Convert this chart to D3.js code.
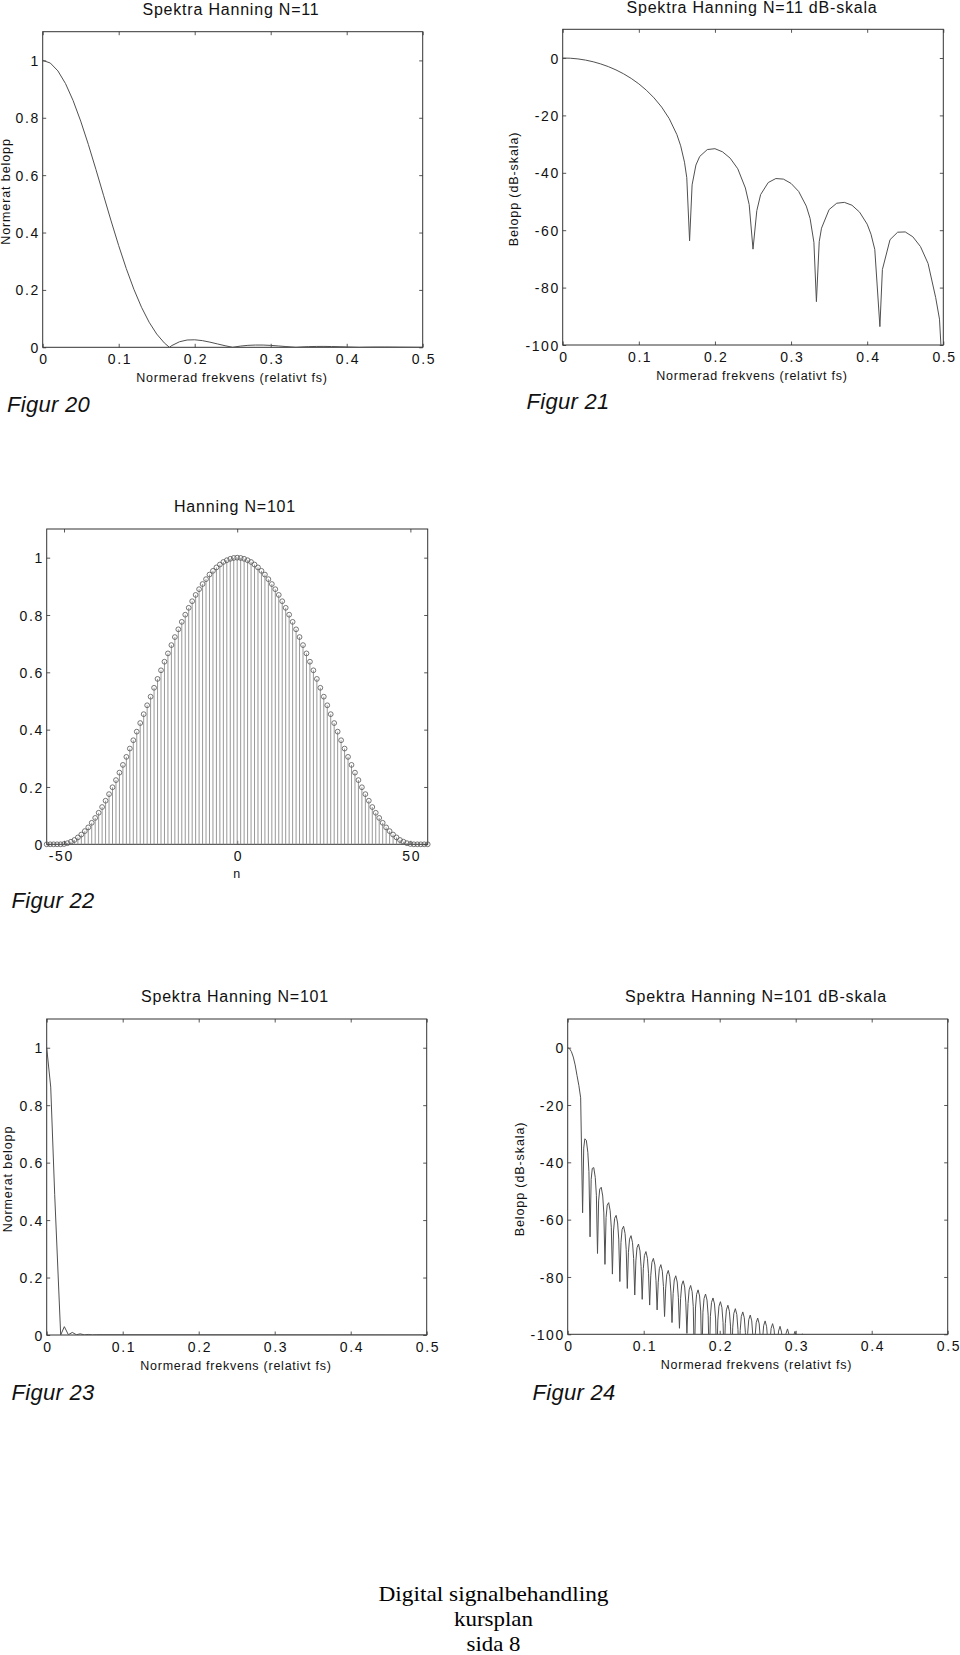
<!DOCTYPE html>
<html><head><meta charset="utf-8">
<script src="https://cdn.jsdelivr.net/npm/d3@7"></script>
<style>html,body{margin:0;padding:0;background:#fff;} svg{display:block;}</style>
</head><body>
<script>
// ---------------- DATA ----------------
// Figur 20: Spektra Hanning N=11 (linear)
const fig20Freq = [0,0.01,0.02,0.03,0.04,0.05,0.06,0.07,0.08,0.09,0.10,0.11,0.12,0.13,0.14,0.15,0.16,0.1667,0.17,0.18,0.19,0.20,0.21,0.22,0.23,0.24,0.25,0.26,0.27,0.28,0.29,0.30,0.31,0.32,0.3333,0.34,0.35,0.36,0.37,0.38,0.39,0.40,0.4167,0.42,0.43,0.44,0.45,0.46,0.47,0.48,0.49,0.50];
const fig20Mag = [1,0.9908,0.9634,0.9192,0.8600,0.7884,0.7074,0.6201,0.5301,0.4405,0.3543,0.2741,0.2021,0.1396,0.0876,0.0463,0.0153,0,0.0062,0.0193,0.0254,0.0262,0.0233,0.0180,0.0117,0.0055,0,0.0042,0.0068,0.0079,0.0078,0.0066,0.0047,0.0026,0,0.0011,0.0023,0.0030,0.0031,0.0027,0.0021,0.0013,0,0.0002,0.0007,0.0009,0.0009,0.0008,0.0005,0.0003,0.0001,0];

// Figur 21: Spektra Hanning N=11 dB-skala
const fig21Freq = [0,0.01,0.02,0.03,0.04,0.05,0.06,0.07,0.08,0.09,0.10,0.11,0.12,0.13,0.14,0.15,
  0.155,0.16,0.163,0.1667,0.17,0.175,0.18,
  0.19,0.20,0.21,0.22,0.23,0.24,
  0.245,0.25,0.255,
  0.26,0.27,0.28,0.29,0.30,0.31,0.32,
  0.325,0.33,0.3333,0.337,
  0.34,0.35,0.36,0.37,0.38,0.39,0.40,
  0.405,0.41,0.4167,
  0.42,0.43,0.44,0.45,0.46,0.47,0.48,0.49,
  0.495,0.50];
const fig21Db = [0,-0.08,-0.32,-0.73,-1.31,-2.07,-3.01,-4.15,-5.51,-7.12,-9.01,-11.24,-13.89,-17.10,-21.15,-26.69,
  -30.6,-36.3,-41.7,-63.7,-44.2,-37.3,-34.3,
  -31.9,-31.6,-32.7,-34.9,-38.6,-45.3,
  -51.1,-66.6,-53.2,
  -47.6,-43.4,-42.0,-42.2,-43.7,-46.5,-51.6,
  -55.9,-64.2,-84.9,-64.0,
  -59.3,-52.8,-50.6,-50.3,-51.3,-53.7,-57.9,
  -61.4,-66.7,-93.6,
  -73.7,-63.3,-60.7,-60.6,-62.3,-65.7,-71.6,-83.5,
  -91,-115];

// Figur 22: Hanning N=101 (stem)
const fig22N = [-55,-54,-53,-52,-51,-50,-49,-48,-47,-46,-45,-44,-43,-42,-41,-40,-39,-38,-37,-36,-35,-34,-33,-32,-31,-30,-29,-28,-27,-26,-25,-24,-23,-22,-21,-20,-19,-18,-17,-16,-15,-14,-13,-12,-11,-10,-9,-8,-7,-6,-5,-4,-3,-2,-1,0,1,2,3,4,5,6,7,8,9,10,11,12,13,14,15,16,17,18,19,20,21,22,23,24,25,26,27,28,29,30,31,32,33,34,35,36,37,38,39,40,41,42,43,44,45,46,47,48,49,50,51,52,53,54,55];
const fig22W = [0,0,0,0,0,
  0.001,0.004,0.009,0.015,0.024,0.034,0.046,0.059,0.075,0.092,0.110,0.130,0.152,0.175,0.199,0.224,0.250,0.277,0.305,0.334,0.363,0.393,0.423,0.454,0.485,0.515,0.546,0.577,0.607,0.637,0.666,0.695,0.723,0.750,0.776,0.801,0.825,0.848,0.870,0.890,0.908,0.925,0.941,0.954,0.966,0.976,0.985,0.991,0.996,0.999,
  1.000,
  0.999,0.996,0.991,0.985,0.976,0.966,0.954,0.941,0.925,0.908,0.890,0.870,0.848,0.825,0.801,0.776,0.750,0.723,0.695,0.666,0.637,0.607,0.577,0.546,0.515,0.485,0.454,0.423,0.393,0.363,0.334,0.305,0.277,0.250,0.224,0.199,0.175,0.152,0.130,0.110,0.092,0.075,0.059,0.046,0.034,0.024,0.015,0.009,0.004,0.001,
  0,0,0,0,0];

// Figur 23: Spektra Hanning N=101 (linear)
const fig23Freq = [0,0.0053,0.0105,0.0184,0.0232,0.0285,0.0337,0.0390,0.0442,0.0495,0.0547,0.0600,0.0652,0.5];
const fig23Mag = [1,0.863,0.49,0,0.029,0.001,0.009,0.001,0.004,0.0005,0.002,0.0003,0.001,0];

// Figur 24: Spektra Hanning N=101 dB-skala
const fig24Freq = [0,0.00245,0.0049,0.00735,0.0098,0.01225,0.0147,0.01706,
  0.01961,0.02108,0.02255,0.02451,0.02647,0.02794,
  0.02941,0.03088,0.03235,0.03431,0.03627,0.03774,
  0.03922,0.04069,0.04216,0.04412,0.04608,0.04755,
  0.04902,0.05049,0.05196,0.05392,0.05588,0.05735,
  0.05882,0.06029,0.06176,0.06373,0.06569,0.06716,
  0.06863,0.07010,0.07157,0.07353,0.07549,0.07696,
  0.07843,0.07990,0.08137,0.08333,0.08529,0.08676,
  0.08824,0.08971,0.09118,0.09314,0.09510,0.09657,
  0.09804,0.09951,0.10098,0.10294,0.10490,0.10637,
  0.10784,0.10931,0.11078,0.11275,0.11471,0.11618,
  0.11765,0.11912,0.12059,0.12255,0.12451,0.12598,
  0.12745,0.12892,0.13039,0.13235,0.13431,0.13578,
  0.13725,0.13873,0.14020,0.14216,0.14412,0.14559,
  0.14706,0.14853,0.15000,0.15196,0.15392,0.15539,
  0.15686,0.15833,0.15980,0.16176,0.16373,0.16520,
  0.16667,0.16814,0.16961,0.17157,0.17353,0.17500,
  0.17647,0.17794,0.17941,0.18137,0.18333,0.18480,
  0.18627,0.18775,0.18922,0.19118,0.19314,0.19461,
  0.19608,0.19755,0.19902,0.20098,0.20294,0.20441,
  0.20588,0.20735,0.20882,0.21078,0.21275,0.21422,
  0.21569,0.21716,0.21863,0.22059,0.22255,0.22402,
  0.22549,0.22696,0.22843,0.23039,0.23235,0.23382,
  0.23529,0.23676,0.23824,0.24020,0.24216,0.24363,
  0.24510,0.24657,0.24804,0.25000,0.25196,0.25343,
  0.25490,0.25637,0.25784,0.25980,0.26176,0.26324,
  0.26471,0.26618,0.26765,0.26961,0.27157,0.27304,
  0.27451,0.27598,0.27745,0.27941,0.28137,0.28284,
  0.28431,0.28578,0.28725,0.28922,0.29118,0.29265,
  0.29412,0.29559,0.29706,0.29902,0.30098,0.30245,
  0.30392,0.30539,0.30686,0.30882,0.31078,0.31225,
  0.31373];
const fig24Db = [0,-0.35,-1.42,-3.27,-6.02,-9.7,-13.2,-17.5,
  -57.6,-35.05,-31.79,-32.3,-36.49,-43.27,
  -66.0,-45.95,-42.11,-41.85,-45.27,-51.47,
  -71.8,-53.46,-49.34,-48.7,-51.74,-57.66,
  -75.6,-59.23,-54.94,-54.07,-56.88,-62.63,
  -79.0,-63.95,-59.54,-58.51,-61.16,-66.79,
  -81.6,-67.92,-63.43,-62.29,-64.83,-70.38,
  -84.0,-71.37,-66.81,-65.59,-68.05,-73.53,
  -86.3,-74.40,-69.80,-68.51,-70.90,-76.34,
  -87.8,-77.12,-72.48,-71.14,-73.48,-78.88,
  -89.8,-79.59,-74.91,-73.52,-75.81,-81.17,
  -91.5,-81.83,-77.12,-75.70,-77.96,-83.29,
  -93.8,-83.90,-79.17,-77.72,-79.95,-85.26,
  -95.9,-85.81,-81.06,-79.58,-81.78,-87.07,
  -97.9,-87.60,-82.83,-81.33,-83.51,-88.78,
  -99.7,-89.27,-84.48,-82.96,-85.12,-90.37,
  -110,-90.84,-86.04,-84.50,-86.64,-91.88,
  -110,-92.32,-87.51,-85.95,-88.07,-93.30,
  -110,-93.71,-88.89,-87.32,-89.43,-94.65,
  -110,-95.05,-90.22,-88.63,-90.72,-95.93,
  -110,-96.31,-91.47,-89.87,-91.95,-97.15,
  -110,-97.51,-92.67,-91.06,-93.13,-98.33,
  -110,-98.66,-93.81,-92.19,-94.25,-99.44,
  -110,-99.77,-94.91,-93.28,-95.33,-100.51,
  -110,-100.82,-95.96,-94.32,-96.36,-101.54,
  -110,-101.85,-96.97,-95.33,-97.37,-102.53,
  -110,-102.82,-97.94,-96.29,-98.32,-103.48,
  -110,-103.76,-98.88,-97.22,-99.24,-104.40,
  -110,-104.67,-99.78,-98.12,-100.14,-105.29,
  -110,-105.55,-100.66,-98.99,-101.00,-106.15,
  -110,-106.4,-101.5,-99.83,-101.8,-107.0,
  -110];

// Tick values and labels
const freqTicks = [0,0.1,0.2,0.3,0.4,0.5];
const freqTickLabels = ["0","0.1","0.2","0.3","0.4","0.5"];
const linTicks = [0,0.2,0.4,0.6,0.8,1];
const linTickLabels = ["0","0.2","0.4","0.6","0.8","1"];
const dbTicks = [-100,-80,-60,-40,-20,0];
const dbTickLabels = ["-100","-80","-60","-40","-20","0"];
const nTicks = [-50,0,50];
const nTickLabels = ["-50","0","50"];

// Footer text
const footerLines = ["Digital signalbehandling", "kursplan", "sida 8"];

// ---------------- DRAWING ----------------
const W = 960, H = 1655;
const SANS = "'Liberation Sans', Arial, Helvetica, sans-serif";
const SERIF = "'Liberation Serif', 'Times New Roman', serif";
const svg = d3.select("body").append("svg").attr("width", W).attr("height", H)
  .attr("viewBox", `0 0 ${W} ${H}`);
svg.append("rect").attr("width", W).attr("height", H).attr("fill", "#fff");

const TICK_LS = 1.6;
const TXT = "#111";

function panel(c) {
  const x = d3.scaleLinear().domain(c.xDomain).range([c.left, c.right]);
  const y = d3.scaleLinear().domain(c.yDomain).range([c.bottom, c.top]);
  const g = svg.append("g");
  const clipId = "clip-" + c.id;
  g.append("clipPath").attr("id", clipId).append("rect")
    .attr("x", c.left).attr("y", c.top)
    .attr("width", c.right - c.left).attr("height", c.bottom - c.top);

  const lab = (ticks, labels) => d => labels[ticks.indexOf(d)];
  const TS = 3.5;
  const axB = g.append("g").attr("transform", `translate(0,${c.bottom})`)
    .call(d3.axisBottom(x).tickValues(c.xTicks).tickFormat(lab(c.xTicks, c.xLabels)).tickSizeInner(-TS).tickSizeOuter(0));
  const axT = g.append("g").attr("transform", `translate(0,${c.top})`)
    .call(d3.axisTop(x).tickValues(c.xTicks).tickFormat(() => "").tickSizeInner(-TS).tickSizeOuter(0));
  const axL = g.append("g").attr("transform", `translate(${c.left},0)`)
    .call(d3.axisLeft(y).tickValues(c.yTicks).tickFormat(lab(c.yTicks, c.yLabels)).tickSizeInner(-TS).tickSizeOuter(0));
  const axR = g.append("g").attr("transform", `translate(${c.right},0)`)
    .call(d3.axisRight(y).tickValues(c.yTicks).tickFormat(() => "").tickSizeInner(-TS).tickSizeOuter(0));
  [axB, axT, axL, axR].forEach(a => {
    a.select(".domain").remove();
    a.attr("color", "#444").attr("font-family", SANS).attr("font-size", 14);
    a.selectAll("line").attr("stroke-width", 0.9);
    a.selectAll("text").attr("fill", TXT).style("letter-spacing", TICK_LS + "px");
  });
  axB.selectAll("text").attr("y", 17).attr("dy", null)
    .attr("dx", d => (c.xLabels[c.xTicks.indexOf(d)].startsWith("-") ? -4 : 0) + TICK_LS / 2);
  axL.selectAll("text").attr("x", -4.5 + TICK_LS).attr("dy", "0.36em");

  // frame
  g.append("rect").attr("x", c.left).attr("y", c.top)
    .attr("width", c.right - c.left).attr("height", c.bottom - c.top)
    .attr("fill", "none").attr("stroke", "#333").attr("stroke-width", 1);

  // title
  g.append("text").attr("x", c.titleX).attr("y", c.titleY).attr("text-anchor", "middle")
    .attr("font-family", SANS).attr("font-size", 16).style("letter-spacing", "0.8px")
    .attr("fill", TXT).text(c.title);
  // x label
  if (c.xlab) g.append("text").attr("x", c.xlabX).attr("y", c.xlabY).attr("text-anchor", "middle")
    .attr("font-family", SANS).attr("font-size", 12.5).style("letter-spacing", "0.75px")
    .attr("fill", TXT).text(c.xlab);
  // y label
  if (c.ylab) g.append("text").attr("transform", `translate(${c.ylabX},${c.ylabY}) rotate(-90)`)
    .attr("text-anchor", "middle").attr("font-family", SANS).attr("font-size", 12.5)
    .style("letter-spacing", "0.9px").attr("fill", TXT).text(c.ylab);
  // figure label
  g.append("text").attr("x", c.figX).attr("y", c.figY)
    .attr("font-family", SANS).attr("font-size", 22).attr("font-style", "italic")
    .style("letter-spacing", "0.3px").attr("fill", TXT).text(c.fig);

  return { x, y, g, clipId };
}

function drawLine(p, xs, ys) {
  const line = d3.line().x(d => p.x(d[0])).y(d => p.y(d[1]));
  p.g.append("path").datum(d3.zip(xs, ys))
    .attr("clip-path", `url(#${p.clipId})`)
    .attr("fill", "none").attr("stroke", "#505050").attr("stroke-width", 1)
    .attr("stroke-linejoin", "round").attr("d", line);
}

const XLAB = "Normerad frekvens (relativt fs)";

// Figur 20
const p20 = panel({ id: "f20", left: 42.7, right: 422.7, top: 31.7, bottom: 347.3,
  xDomain: [0, 0.5], yDomain: [0, 1.1], xTicks: freqTicks, xLabels: freqTickLabels,
  yTicks: linTicks, yLabels: linTickLabels,
  title: "Spektra Hanning N=11", titleX: 231, titleY: 15,
  xlab: XLAB, xlabX: 232, xlabY: 381.5,
  ylab: "Normerat belopp", ylabX: 9.5, ylabY: 191.5,
  fig: "Figur 20", figX: 7, figY: 411.5 });
drawLine(p20, fig20Freq, fig20Mag);

// Figur 21
const p21 = panel({ id: "f21", left: 562.7, right: 943.3, top: 29.3, bottom: 345,
  xDomain: [0, 0.5], yDomain: [-100, 10], xTicks: freqTicks, xLabels: freqTickLabels,
  yTicks: dbTicks, yLabels: dbTickLabels,
  title: "Spektra Hanning N=11 dB-skala", titleX: 752, titleY: 12.7,
  xlab: XLAB, xlabX: 752, xlabY: 380,
  ylab: "Belopp (dB-skala)", ylabX: 517.5, ylabY: 189,
  fig: "Figur 21", figX: 526.5, figY: 409.3 });
drawLine(p21, fig21Freq, fig21Db);

// Figur 22
const p22 = panel({ id: "f22", left: 46.7, right: 427.7, top: 529, bottom: 844.3,
  xDomain: [-55, 55], yDomain: [0, 1.1], xTicks: nTicks, xLabels: nTickLabels,
  yTicks: linTicks, yLabels: linTickLabels,
  title: "Hanning N=101", titleX: 235, titleY: 512.3,
  xlab: "n", xlabX: 237, xlabY: 878,
  ylab: null,
  fig: "Figur 22", figX: 11.5, figY: 908.3 });
const stems = d3.zip(fig22N, fig22W);
p22.g.append("g").selectAll("line").data(stems).join("line")
  .attr("x1", d => p22.x(d[0])).attr("x2", d => p22.x(d[0]))
  .attr("y1", p22.y(0)).attr("y2", d => p22.y(d[1]))
  .attr("stroke", "#8c8c8c").attr("stroke-width", 0.9);
p22.g.append("g").selectAll("circle").data(stems).join("circle")
  .attr("cx", d => p22.x(d[0])).attr("cy", d => p22.y(d[1])).attr("r", 2.4)
  .attr("fill", "none").attr("stroke", "#555").attr("stroke-width", 0.8);

// Figur 23
const p23 = panel({ id: "f23", left: 46.7, right: 426.7, top: 1019, bottom: 1335,
  xDomain: [0, 0.5], yDomain: [0, 1.1], xTicks: freqTicks, xLabels: freqTickLabels,
  yTicks: linTicks, yLabels: linTickLabels,
  title: "Spektra Hanning N=101", titleX: 235, titleY: 1002.3,
  xlab: XLAB, xlabX: 236, xlabY: 1370,
  ylab: "Normerat belopp", ylabX: 11.5, ylabY: 1179,
  fig: "Figur 23", figX: 11.5, figY: 1400 });
drawLine(p23, fig23Freq, fig23Mag);

// Figur 24
const p24 = panel({ id: "f24", left: 567.7, right: 947.7, top: 1019, bottom: 1334.3,
  xDomain: [0, 0.5], yDomain: [-100, 10], xTicks: freqTicks, xLabels: freqTickLabels,
  yTicks: dbTicks, yLabels: dbTickLabels,
  title: "Spektra Hanning N=101 dB-skala", titleX: 756, titleY: 1002.3,
  xlab: XLAB, xlabX: 756.5, xlabY: 1369.3,
  ylab: "Belopp (dB-skala)", ylabX: 523.5, ylabY: 1179,
  fig: "Figur 24", figX: 532.5, figY: 1400 });
drawLine(p24, fig24Freq, fig24Db);

// Footer
const footerY = [1600.5, 1626, 1651];
const footerLen = [230, 79, 54];
svg.append("g").selectAll("text").data(footerLines).join("text")
  .attr("x", 493.5).attr("y", (d, i) => footerY[i]).attr("text-anchor", "middle")
  .attr("font-family", SERIF).attr("font-size", 22)
  .attr("textLength", (d, i) => footerLen[i]).attr("lengthAdjust", "spacingAndGlyphs")
  .attr("fill", "#000").text(d => d);
</script>
</body></html>
